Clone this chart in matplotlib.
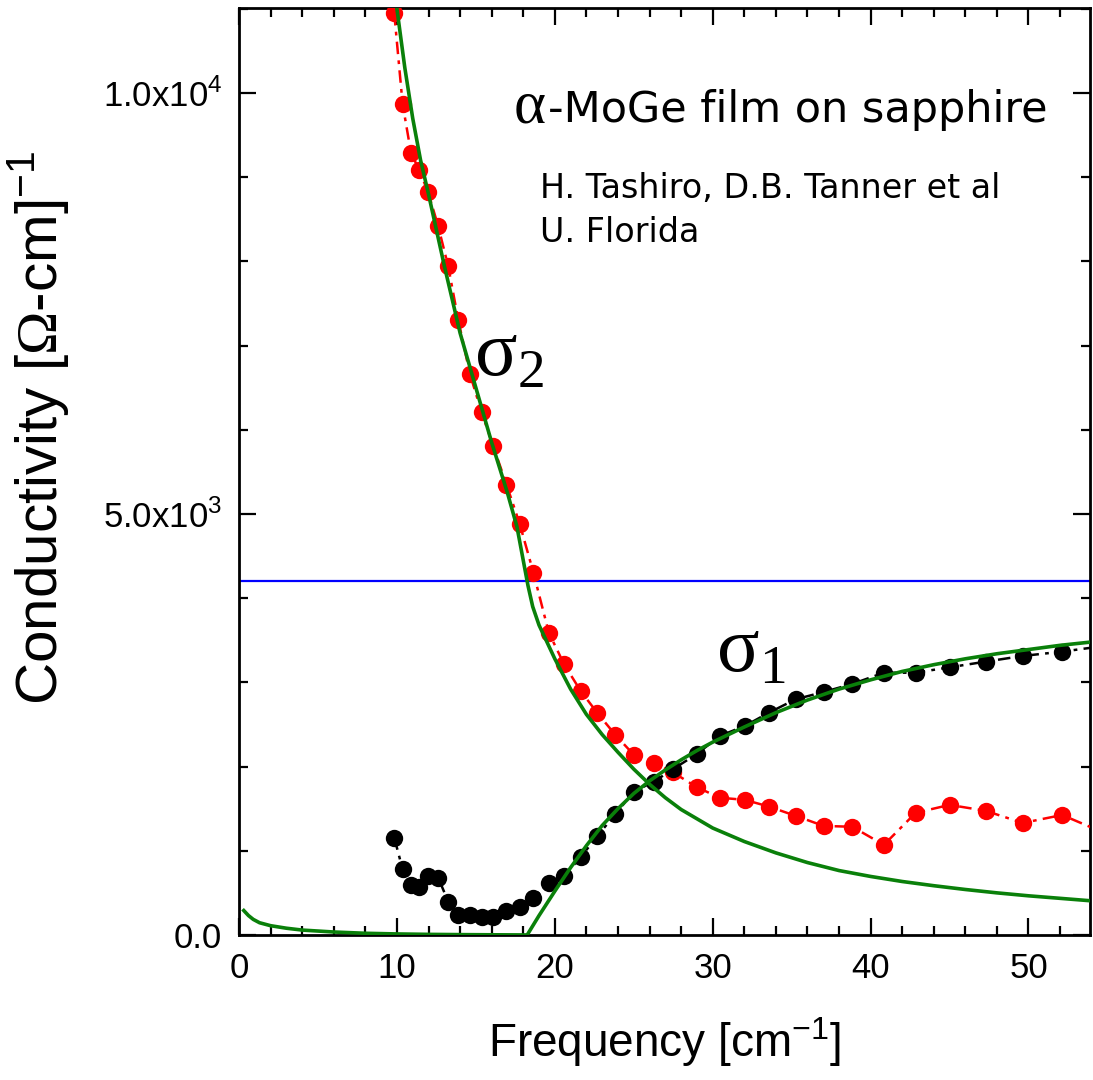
"""Optical conductivity of an a-MoGe film on sapphire: data and BCS fit."""

import matplotlib

matplotlib.use("Agg")
import matplotlib.pyplot as plt
from matplotlib.ticker import MultipleLocator, FixedLocator, FixedFormatter

plt.rcParams["font.family"] = ["Liberation Sans", "DejaVu Sans"]
plt.rcParams["mathtext.fontset"] = "custom"
plt.rcParams["mathtext.rm"] = "Liberation Serif"
plt.rcParams["mathtext.sf"] = "Liberation Sans"

# measured frequencies (cm^-1), shared by both data sets
freq = [9.83, 10.36, 10.89, 11.41, 11.98, 12.61, 13.25, 13.88, 14.62, 15.36,
        16.10, 16.94, 17.78, 18.65, 19.62, 20.59, 21.63, 22.70, 23.84, 25.00,
        26.27, 27.49, 29.00, 30.44, 32.03, 33.56, 35.25, 37.03, 38.84, 40.84,
        42.85, 45.00, 47.28, 49.64, 52.13, 54.70]
sigma1 = [1156, 780, 594, 574, 701, 681, 396, 238, 238, 217,
          217, 285, 336, 436, 614, 701, 923, 1176, 1437, 1702,
          1821, 1970, 2150, 2363, 2482, 2640, 2799, 2886, 2981, 3115,
          3115, 3179, 3246, 3314, 3365, 3430]
sigma2 = [10950, 9870, 9290, 9085, 8820, 8420, 7940, 7310, 6665, 6210,
          5805, 5350, 4880, 4300, 3590, 3215, 2900, 2635, 2375, 2140,
          2045, 1930, 1755, 1630, 1605, 1525, 1415, 1295, 1285, 1070,
          1450, 1545, 1475, 1330, 1425, 1220]

# BCS (Mattis-Bardeen) fit curves
fit1_freq = [0.3, 0.6, 0.9, 1.3, 2.0, 3.0, 4.0, 6.0, 8.0, 10.0, 12.0, 14.0,
             16.0, 18.25, 19.0, 20.0, 21.0, 22.0, 23.0, 24.0, 25.0, 26.0,
             27.0, 28.0, 29.0, 30.0, 32.0, 34.0, 36.0, 38.0, 40.0, 42.0,
             44.0, 46.0, 48.0, 50.0, 52.0, 54.0]
fit1 = [290, 230, 185, 145, 110, 80, 58, 35, 20, 12, 7, 4,
        2, 0, 230, 520, 800, 1060, 1300, 1500, 1680, 1830,
        1960, 2080, 2190, 2290, 2470, 2640, 2790, 2920, 3030, 3130,
        3210, 3280, 3340, 3390, 3440, 3480]
fit2_freq = [9.6, 10.0, 10.5, 11.0, 11.5, 12.0, 13.0, 14.0, 15.0, 16.0,
             17.0, 17.6, 18.0, 18.3, 18.6, 19.0, 19.5, 20.0, 21.0, 22.0,
             23.0, 24.0, 25.0, 26.0, 27.0, 28.0, 30.0, 32.0, 34.0, 36.0,
             38.0, 40.0, 42.0, 44.0, 46.0, 48.0, 50.0, 52.0, 54.0]
fit2 = [11500, 11000, 10300, 9700, 9200, 8800, 7950, 7150, 6500, 5850,
        5250, 4850, 4450, 4150, 3900, 3680, 3480, 3280, 2920, 2620,
        2380, 2170, 1970, 1790, 1630, 1490, 1270, 1110, 975, 860,
        765, 695, 635, 585, 540, 500, 465, 435, 405]

blue_level = 4210

fig = plt.figure(figsize=(10.93, 10.8), dpi=100)
ax = fig.add_axes([0.2187, 0.1343, 0.7786, 0.8583])

ax.axhline(blue_level, color="#0000ff", lw=1.6, zorder=1)
ax.plot(freq, sigma2, color="#ff0000", lw=1.8, ls=(0, (5, 2.5, 1.5, 2.5)),
        marker="o", ms=12.5, mec="none", zorder=3)
ax.plot(freq, sigma1, color="black", lw=1.8, ls=(0, (5, 2.5, 1.5, 2.5)),
        marker="o", ms=12.5, mec="none", zorder=3)
ax.plot(fit2_freq, fit2, color="#0a800a", lw=2.6, zorder=4)
ax.plot(fit1_freq, fit1, color="#0a800a", lw=2.6, zorder=4)

ax.set_xlim(0, 53.9)
ax.set_ylim(0, 11010)

ax.xaxis.set_major_locator(MultipleLocator(10))
ax.xaxis.set_minor_locator(MultipleLocator(2))
ax.yaxis.set_major_locator(FixedLocator([0, 5000, 10000]))
ax.yaxis.set_major_formatter(FixedFormatter(
    ["0.0", r"5.0x10$^\mathsf{3}$", r"1.0x10$^\mathsf{4}$"]))
ax.yaxis.set_minor_locator(MultipleLocator(1000))

ax.tick_params(which="both", direction="in", top=True, right=True,
               width=1.6, labelsize=25)
ax.tick_params(which="major", length=12)
ax.tick_params(which="minor", length=6.5)
ax.tick_params(axis="x", pad=12)
ax.tick_params(axis="y", pad=12)
for sp in ax.spines.values():
    sp.set_linewidth(2)

ax.set_xlabel(r"Frequency [cm$^\mathsf{-1}$]", fontsize=33)
ax.set_ylabel(r"Conductivity [$\Omega$-cm]$^\mathsf{-1}$", fontsize=42)
ax.xaxis.set_label_coords(0.5, -0.086)
ax.yaxis.set_label_coords(-0.196, 0.547)

ax.text(17.35, 9655, r"$\mathrm{\alpha}$", fontsize=44, va="baseline")
ax.text(19.6, 9655, "-MoGe film on sapphire",
        family="DejaVu Sans", fontsize=31, va="baseline")
ax.text(19.05, 8753, "H. Tashiro, D.B. Tanner et al",
        family="DejaVu Sans", fontsize=24, va="baseline")
ax.text(19.05, 8230, "U. Florida", family="DejaVu Sans", fontsize=24,
        va="baseline")
ax.text(14.9, 6650, r"$\mathrm{\sigma}_\mathrm{2}$", fontsize=57,
        va="baseline")
ax.text(30.2, 3130, r"$\mathrm{\sigma}_\mathrm{1}$", fontsize=57,
        va="baseline")

fig.savefig("out.png", dpi=100)
